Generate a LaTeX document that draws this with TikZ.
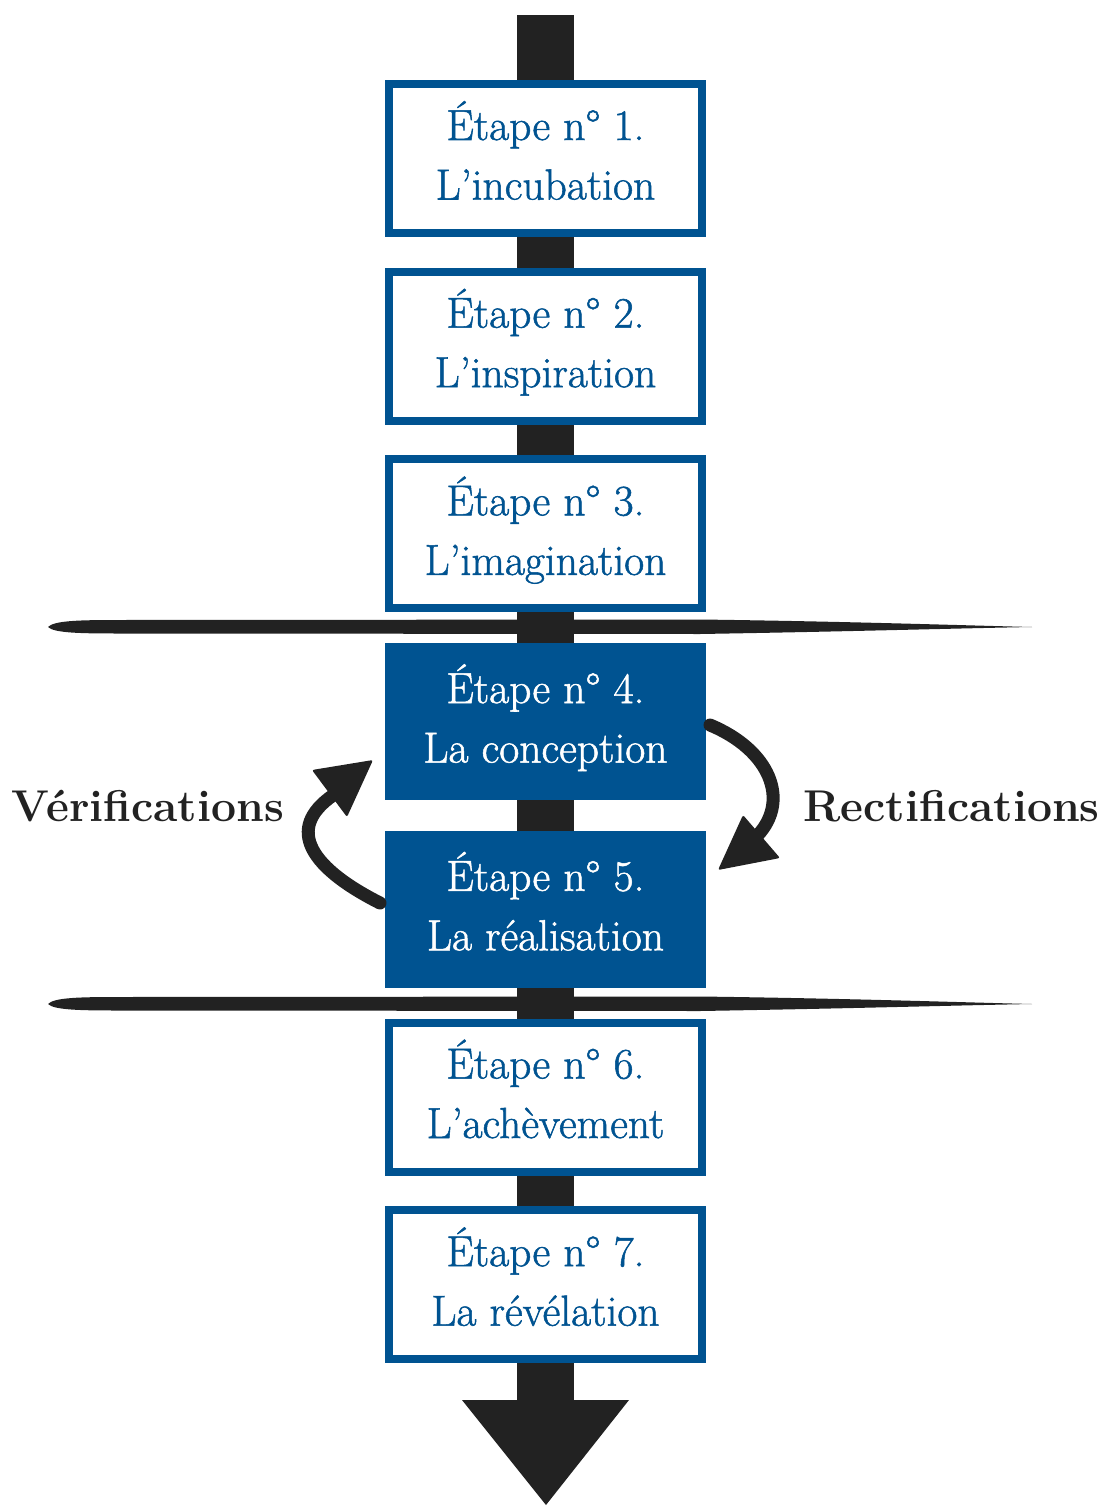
\documentclass[tikz,border=0pt]{standalone}
\usepackage{fontspec}
\newfontfamily\stepfont{Latin Modern Roman}[FakeBold=1.2]
\definecolor{stepblue}{RGB}{0,83,145}
\definecolor{ink}{RGB}{34,34,34}
\tikzset{
  stepbox/.style={draw=stepblue, line width=8pt, fill=white, minimum width=313pt, minimum height=149pt, inner sep=0pt, align=center, text=stepblue, font=\stepfont\fontsize{43.5}{59.5}\selectfont},
  stepfilled/.style={stepbox, fill=stepblue, text=white},
  sidelabel/.style={anchor=base, text=ink, font=\fontsize{44.5}{50}\selectfont\bfseries, inner sep=0pt},
  loopline/.style={draw=ink, line width=13pt, line cap=round},
}
\newcommand{\toprule}{\rule{0pt}{42pt}}
\newcommand{\botrule}{\rule[-19.5pt]{0pt}{19.5pt}}
\begin{document}
\begin{tikzpicture}[x=1pt,y=-1pt]
\useasboundingbox (0,0) rectangle (1103,1506);
% main arrow
\fill[ink] (517,15) rectangle (574,1401);
\fill[ink] (462,1400) -- (629,1400) -- (546,1505) -- cycle;
% brush strokes
\foreach \yy in {627,1004}{
\fill[ink] (48,\yy) .. controls (54,\yy-6.5) and (80,\yy-7) .. (120,\yy-7) -- (700,\yy-7.5) .. controls (850,\yy-5.5) and (950,\yy-2) .. (1032,\yy) .. controls (950,\yy+1.5) and (850,\yy+4.5) .. (700,\yy+7) -- (120,\yy+6.5) .. controls (80,\yy+6.5) and (54,\yy+6) .. (48,\yy) -- cycle;
}
% steps
\node[stepbox] (s1) at (545.5,158.5) {\toprule Étape n° 1.\\L’incubation\botrule};
\node[stepbox] (s2) at (545.5,346.2) {\toprule Étape n° 2.\\L’inspiration\botrule};
\node[stepbox] (s3) at (545.5,533.9) {\toprule Étape n° 3.\\L’imagination\botrule};
\node[stepfilled] (s4) at (545.5,721.6) {\toprule Étape n° 4.\\La conception\botrule};
\node[stepfilled] (s5) at (545.5,909.3) {\toprule Étape n° 5.\\La réalisation\botrule};
\node[stepbox] (s6) at (545.5,1097.0) {\toprule Étape n° 6.\\L’achèvement\botrule};
\node[stepbox] (s7) at (545.5,1284.7) {\toprule Étape n° 7.\\La révélation\botrule};
% loop arrows
\coordinate (vtail) at (380,903);
\coordinate (vend) at (338,792);
\draw[loopline] (vtail) .. controls (305,865) and (285,825) .. (vend);
\fill[ink, rounded corners=2pt] (312,770) -- (373,760) -- (347,817) -- cycle;
\coordinate (rtail) at (710,725);
\coordinate (rend) at (758,835);
\draw[loopline] (rtail) .. controls (770,750) and (790,800) .. (rend);
\fill[ink, rounded corners=2pt] (743,815) -- (780,858) -- (718,870) -- cycle;
% labels
\node[sidelabel] (ver) at (147.5,821) {Vérifications};
\node[sidelabel] (rec) at (951.5,821) {Rectifications};
\end{tikzpicture}
\end{document}
